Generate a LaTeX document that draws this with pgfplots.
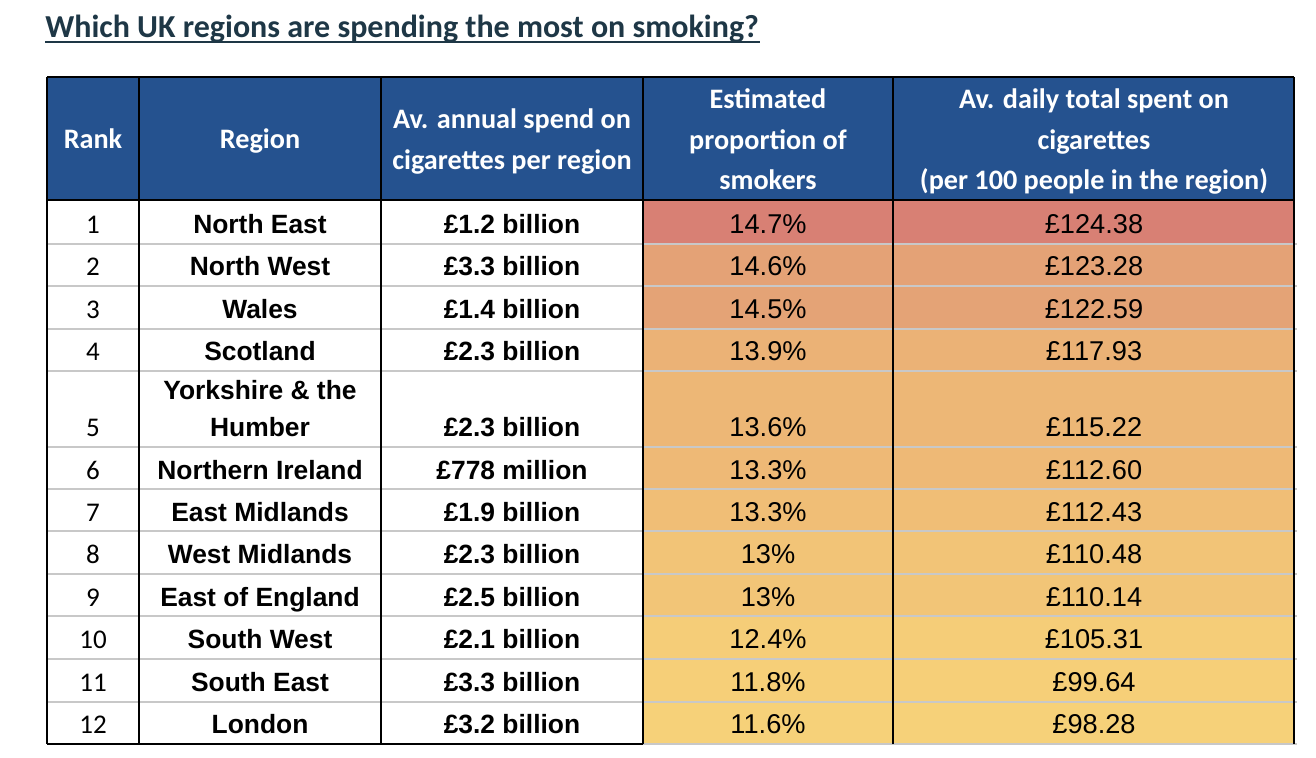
\documentclass[border=0pt]{standalone}
\usepackage{pgfplots}
\pgfplotsset{compat=1.18}
\usepackage{fontspec}
\setmainfont{Liberation Sans}
\newfontfamily\calibri{Carlito}
\definecolor{hdr}{RGB}{37,82,143}
\definecolor{ttl}{RGB}{30,55,70}
\definecolor{grid}{RGB}{200,200,200}
\definecolor{c1}{RGB}{216,128,116}
\definecolor{c2}{RGB}{228,162,118}
\definecolor{c3}{RGB}{228,163,118}
\definecolor{c4}{RGB}{235,178,118}
\definecolor{c5}{RGB}{237,183,118}
\definecolor{c6}{RGB}{238,185,118}
\definecolor{c7}{RGB}{240,190,118}
\definecolor{c8}{RGB}{242,196,119}
\definecolor{c9}{RGB}{242,197,119}
\definecolor{c10}{RGB}{245,205,120}
\definecolor{c11}{RGB}{246,207,120}
\definecolor{c12}{RGB}{246,209,121}
\tikzset{
  hd/.style={anchor=base,text=white,inner sep=0pt,font=\calibri\bfseries\fontsize{14.1}{16}\selectfont},
  rk/.style={anchor=base,inner sep=0pt,font=\calibri\fontsize{13.5}{15}\selectfont},
  nm/.style={anchor=base,inner sep=0pt,font=\bfseries\fontsize{13.2}{15}\selectfont},
  vl/.style={anchor=base,inner sep=0pt,font=\fontsize{13.6}{15}\selectfont},
}
\begin{document}
\begin{tikzpicture}
\begin{axis}[width=658pt,height=379pt,scale only axis,
  xmin=0,xmax=1316,ymin=0,ymax=758,y dir=reverse,hide axis,clip=false]
\path (axis cs:0,0) rectangle (axis cs:1316,758);
% title
\node[anchor=base west,inner sep=0pt,text=ttl,font=\calibri\bfseries\fontsize{16}{19}\selectfont] at (axis cs:45,38) {Which UK regions are spending the most on smoking?};
\draw[ttl,line width=1pt] (axis cs:45,42) -- (axis cs:760,42);
% header fill
\fill[hdr] (axis cs:47,77) rectangle (axis cs:1295,200);
% coloured cells
\fill[c1] (axis cs:643,200) rectangle (axis cs:1295,244);
\fill[c2] (axis cs:643,244) rectangle (axis cs:1295,286);
\fill[c3] (axis cs:643,286) rectangle (axis cs:1295,329);
\fill[c4] (axis cs:643,329) rectangle (axis cs:1295,371);
\fill[c5] (axis cs:643,371) rectangle (axis cs:1295,447);
\fill[c6] (axis cs:643,447) rectangle (axis cs:1295,489);
\fill[c7] (axis cs:643,489) rectangle (axis cs:1295,531);
\fill[c8] (axis cs:643,531) rectangle (axis cs:1295,574);
\fill[c9] (axis cs:643,574) rectangle (axis cs:1295,616);
\fill[c10] (axis cs:643,616) rectangle (axis cs:1295,659);
\fill[c11] (axis cs:643,659) rectangle (axis cs:1295,702);
\fill[c12] (axis cs:643,702) rectangle (axis cs:1295,744);
% grey row lines
\draw[grid,line width=1pt] (axis cs:47,244) -- (axis cs:1297,244);
\draw[grid,line width=1pt] (axis cs:47,286) -- (axis cs:1297,286);
\draw[grid,line width=1pt] (axis cs:47,329) -- (axis cs:1297,329);
\draw[grid,line width=1pt] (axis cs:47,371) -- (axis cs:1297,371);
\draw[grid,line width=1pt] (axis cs:47,447) -- (axis cs:1297,447);
\draw[grid,line width=1pt] (axis cs:47,489) -- (axis cs:1297,489);
\draw[grid,line width=1pt] (axis cs:47,531) -- (axis cs:1297,531);
\draw[grid,line width=1pt] (axis cs:47,574) -- (axis cs:1297,574);
\draw[grid,line width=1pt] (axis cs:47,616) -- (axis cs:1297,616);
\draw[grid,line width=1pt] (axis cs:47,659) -- (axis cs:1297,659);
\draw[grid,line width=1pt] (axis cs:47,702) -- (axis cs:1297,702);
\draw[grid,line width=1pt] (axis cs:643,744) -- (axis cs:1297,744);
% black lines
\draw[black,line width=1.2pt] (axis cs:47,77) -- (axis cs:1294,77);
\draw[black,line width=1.2pt] (axis cs:47,200) -- (axis cs:1294,200);
\draw[black,line width=1.2pt] (axis cs:47,744) -- (axis cs:643,744);
\draw[black,line width=1.2pt] (axis cs:47,77) -- (axis cs:47,744);
\draw[black,line width=1.2pt] (axis cs:139,77) -- (axis cs:139,744);
\draw[black,line width=1.2pt] (axis cs:381,77) -- (axis cs:381,744);
\draw[black,line width=1.2pt] (axis cs:643,77) -- (axis cs:643,744);
\draw[black,line width=1.2pt] (axis cs:893,77) -- (axis cs:893,744);
\draw[black,line width=1.2pt] (axis cs:1294,77) -- (axis cs:1294,744);
% header text
\node[hd] at (axis cs:93,149) {Rank};
\node[hd] at (axis cs:260,149) {Region};
\node[hd] at (axis cs:512,129) {Av. annual spend on};
\node[hd] at (axis cs:512,170) {cigarettes per region};
\node[hd] at (axis cs:768,109) {Estimated};
\node[hd] at (axis cs:768,149.5) {proportion of};
\node[hd] at (axis cs:768,190) {smokers};
\node[hd] at (axis cs:1094,109) {Av. daily total spent on};
\node[hd] at (axis cs:1094,149.5) {cigarettes};
\node[hd] at (axis cs:1094,190) {(per 100 people in the region)};
% body rows
\node[rk] at (axis cs:93,233.5) {1};
\node[nm] at (axis cs:260,233.5) {North East};
\node[nm] at (axis cs:512,233.5) {£1.2 billion};
\node[vl] at (axis cs:768,233.5) {14.7\%};
\node[vl] at (axis cs:1094,233.5) {£124.38};
\node[rk] at (axis cs:93,275.5) {2};
\node[nm] at (axis cs:260,275.5) {North West};
\node[nm] at (axis cs:512,275.5) {£3.3 billion};
\node[vl] at (axis cs:768,275.5) {14.6\%};
\node[vl] at (axis cs:1094,275.5) {£123.28};
\node[rk] at (axis cs:93,318.5) {3};
\node[nm] at (axis cs:260,318.5) {Wales};
\node[nm] at (axis cs:512,318.5) {£1.4 billion};
\node[vl] at (axis cs:768,318.5) {14.5\%};
\node[vl] at (axis cs:1094,318.5) {£122.59};
\node[rk] at (axis cs:93,360.5) {4};
\node[nm] at (axis cs:260,360.5) {Scotland};
\node[nm] at (axis cs:512,360.5) {£2.3 billion};
\node[vl] at (axis cs:768,360.5) {13.9\%};
\node[vl] at (axis cs:1094,360.5) {£117.93};
\node[rk] at (axis cs:93,436.5) {5};
\node[nm] at (axis cs:260,399.5) {Yorkshire \& the};
\node[nm] at (axis cs:260,436.5) {Humber};
\node[nm] at (axis cs:512,436.5) {£2.3 billion};
\node[vl] at (axis cs:768,436.5) {13.6\%};
\node[vl] at (axis cs:1094,436.5) {£115.22};
\node[rk] at (axis cs:93,479.5) {6};
\node[nm] at (axis cs:260,479.5) {Northern Ireland};
\node[nm] at (axis cs:512,479.5) {£778 million};
\node[vl] at (axis cs:768,479.5) {13.3\%};
\node[vl] at (axis cs:1094,479.5) {£112.60};
\node[rk] at (axis cs:93,521.5) {7};
\node[nm] at (axis cs:260,521.5) {East Midlands};
\node[nm] at (axis cs:512,521.5) {£1.9 billion};
\node[vl] at (axis cs:768,521.5) {13.3\%};
\node[vl] at (axis cs:1094,521.5) {£112.43};
\node[rk] at (axis cs:93,563.5) {8};
\node[nm] at (axis cs:260,563.5) {West Midlands};
\node[nm] at (axis cs:512,563.5) {£2.3 billion};
\node[vl] at (axis cs:768,563.5) {13\%};
\node[vl] at (axis cs:1094,563.5) {£110.48};
\node[rk] at (axis cs:93,606.5) {9};
\node[nm] at (axis cs:260,606.5) {East of England};
\node[nm] at (axis cs:512,606.5) {£2.5 billion};
\node[vl] at (axis cs:768,606.5) {13\%};
\node[vl] at (axis cs:1094,606.5) {£110.14};
\node[rk] at (axis cs:93,648.5) {10};
\node[nm] at (axis cs:260,648.5) {South West};
\node[nm] at (axis cs:512,648.5) {£2.1 billion};
\node[vl] at (axis cs:768,648.5) {12.4\%};
\node[vl] at (axis cs:1094,648.5) {£105.31};
\node[rk] at (axis cs:93,691.5) {11};
\node[nm] at (axis cs:260,691.5) {South East};
\node[nm] at (axis cs:512,691.5) {£3.3 billion};
\node[vl] at (axis cs:768,691.5) {11.8\%};
\node[vl] at (axis cs:1094,691.5) {£99.64};
\node[rk] at (axis cs:93,733.5) {12};
\node[nm] at (axis cs:260,733.5) {London};
\node[nm] at (axis cs:512,733.5) {£3.2 billion};
\node[vl] at (axis cs:768,733.5) {11.6\%};
\node[vl] at (axis cs:1094,733.5) {£98.28};
\end{axis}
\end{tikzpicture}
\end{document}
